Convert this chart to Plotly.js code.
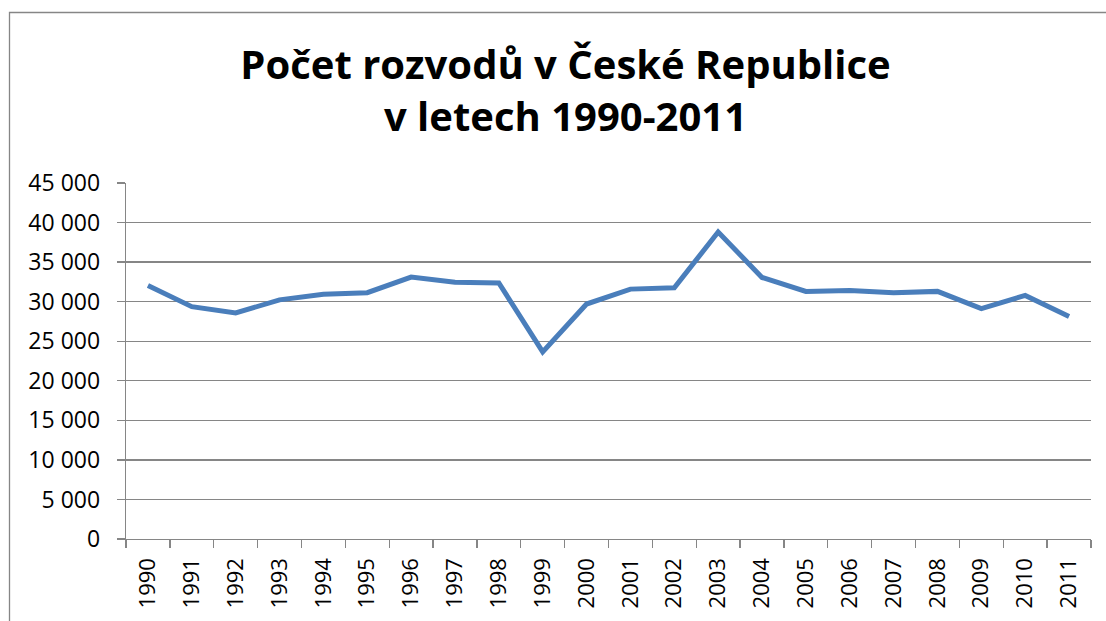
<!DOCTYPE html>
<html>
<head>
<meta charset="utf-8">
<script src="https://cdn.plot.ly/plotly-3.0.1.min.js"></script>
<style>html,body{margin:0;padding:0;background:#fff;}#chart{width:1106px;height:621px;}</style>
</head>
<body>
<div id="chart"></div>
<script>
const years = ["1990","1991","1992","1993","1994","1995","1996","1997","1998","1999","2000","2001","2002","2003","2004","2005","2006","2007","2008","2009","2010","2011"];
const divorces = [32055,29366,28572,30227,30939,31135,33113,32465,32363,23657,29704,31586,31758,38800,33060,31288,31415,31129,31300,29133,30783,28113];
const yTicks = [0,5000,10000,15000,20000,25000,30000,35000,40000,45000];
const titleText = "Počet rozvodů v České Republice<br>v letech 1990-2011";

const W = 1106, H = 621;
const mL = 126, mR = 15, mT = 183, mB = 82;
const pw = W - mL - mR, ph = H - mT - mB;
const FONT = "Open Sans";

const trace = {
  x: years, y: divorces, type: "scatter", mode: "lines",
  line: {color: "#4A7EBB", width: 5}, hoverinfo: "x+y"
};

const layout = {
  width: W, height: H,
  margin: {l: mL, r: mR, t: mT, b: mB, pad: 0},
  paper_bgcolor: "#ffffff", plot_bgcolor: "#ffffff",
  separators: ", ",
  showlegend: false,
  font: {family: FONT, color: "#000000", size: 23},
  title: {
    text: titleText,
    font: {family: FONT, size: 40, color: "#000000", weight: 700},
    x: 565.5 / W, xref: "container", xanchor: "center",
    y: 1 - 79 / H, yref: "container", yanchor: "middle"
  },
  xaxis: {
    type: "category",
    range: [-0.5, years.length - 0.5],
    tickangle: -90,
    ticks: "outside", ticklen: 8, tickwidth: 1.3, tickcolor: "#868686",
    tickson: "boundaries",
    showline: true, linecolor: "#868686", linewidth: 1.3,
    showgrid: false, zeroline: false,
    tickfont: {family: FONT, size: 22, color: "#000000"},
    ticklabelstandoff: 9,
    fixedrange: true
  },
  yaxis: {
    range: [0, 45000],
    tickmode: "array", tickvals: yTicks,
    tickformat: ",d",
    ticks: "outside", ticklen: 8, tickwidth: 1.3, tickcolor: "#868686",
    showline: true, linecolor: "#868686", linewidth: 1.3,
    showgrid: true, gridcolor: "#868686", gridwidth: 1.3,
    zeroline: false,
    tickfont: {family: FONT, size: 23, color: "#000000"},
    ticklabelstandoff: 12,
    fixedrange: true
  },
  shapes: [{
    type: "rect", xref: "paper", yref: "paper",
    x0: (9.5 - mL) / pw, x1: (W + 20 - mL) / pw,
    y0: (H - mB - (H + 20)) / ph, y1: (H - mB - 12.5) / ph,
    line: {color: "#868686", width: 1.3}, fillcolor: "rgba(0,0,0,0)", layer: "below"
  }]
};

Plotly.newPlot("chart", [trace], layout, {displayModeBar: false, staticPlot: true});
</script>
</body>
</html>
